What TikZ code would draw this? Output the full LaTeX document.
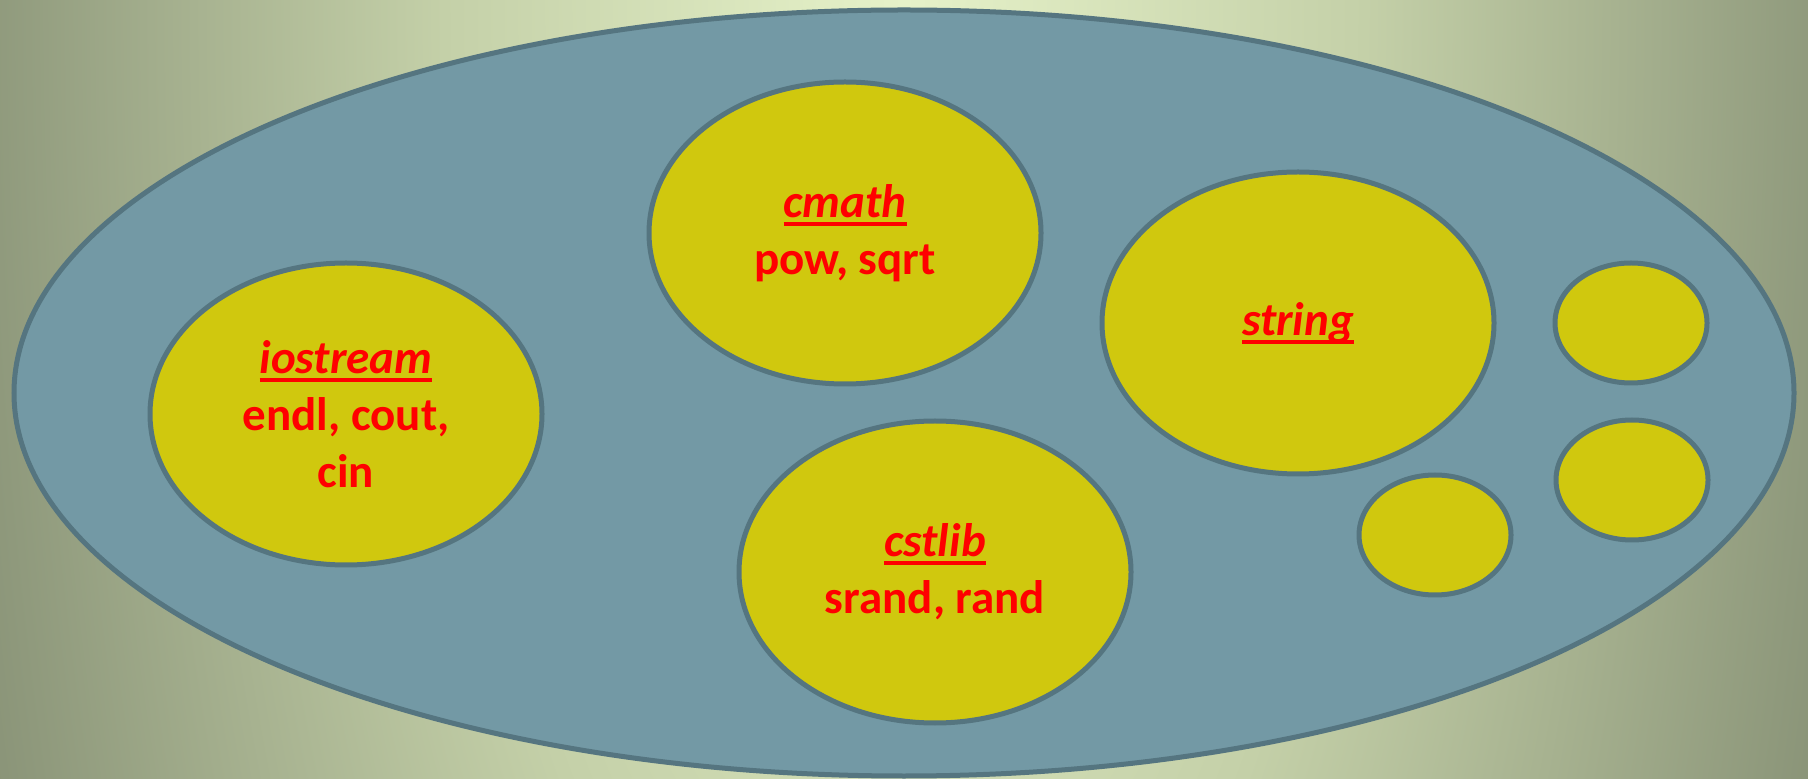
\documentclass[tikz,border=0pt]{standalone}
\usepackage{fontspec}
\setmainfont{Carlito}
\usetikzlibrary{shapes.geometric}
\definecolor{bgc}{HTML}{E6F2C9}
\definecolor{bgm}{HTML}{C4D0A8}
\definecolor{bge}{HTML}{8A9478}
\definecolor{outerfill}{HTML}{7399A5}
\definecolor{rimcol}{HTML}{557580}
\definecolor{yelfill}{HTML}{D0C80E}
\definecolor{txtred}{HTML}{FF0000}
\pgfdeclareradialshading{bgshade}{\pgfpointorigin}{color(0bp)=(bgc); color(12bp)=(bgm); color(25bp)=(bge); color(50bp)=(bge)}
\newcommand{\ulbar}[1]{\setbox0\hbox{#1}\rlap{\color{txtred}\rule[-4.2pt]{\wd0}{2pt}}\box0}
\tikzset{
  libbox/.style={ellipse, draw=rimcol, line width=2.5pt, fill=yelfill, inner sep=0pt,
    minimum width=196*2*0.5pt, minimum height=151*2*0.5pt, align=center, text=txtred,
    font=\bfseries\fontsize{23.5pt}{28.5pt}\selectfont},
  smallbox/.style={ellipse, draw=rimcol, line width=2.5pt, fill=yelfill, inner sep=0pt,
    minimum width=76*2*0.5pt, minimum height=60*2*0.5pt},
  bigbox/.style={ellipse, draw=rimcol, line width=2.5pt, fill=outerfill, inner sep=0pt,
    minimum width=890*2*0.5pt, minimum height=383*2*0.5pt}
}
\begin{document}
\begin{tikzpicture}[x=0.5pt,y=-0.5pt]
\useasboundingbox (0,0) rectangle (1808,779);
\begin{scope}
  \clip (0,0) rectangle (1808,779);
  \fill[shading=bgshade] (904-960,-2400) rectangle (904+960,2400);
\end{scope}
\node[bigbox] (world) at (904,393) {};
\node[libbox] (iostream) at (346,414) {\ulbar{\itshape iostream}\\endl, cout,\\cin};
\node[libbox] (cmath) at (845,233) {\ulbar{\itshape cmath}\\pow, sqrt};
\node[libbox] (string) at (1298,323) {\ulbar{\itshape string}};
\node[libbox] (cstlib) at (935,572) {\ulbar{\itshape cstlib}\\srand, rand};
\node[smallbox] (small1) at (1631,323) {};
\node[smallbox] (small2) at (1632,480) {};
\node[smallbox] (small3) at (1435,535) {};
\end{tikzpicture}
\end{document}
